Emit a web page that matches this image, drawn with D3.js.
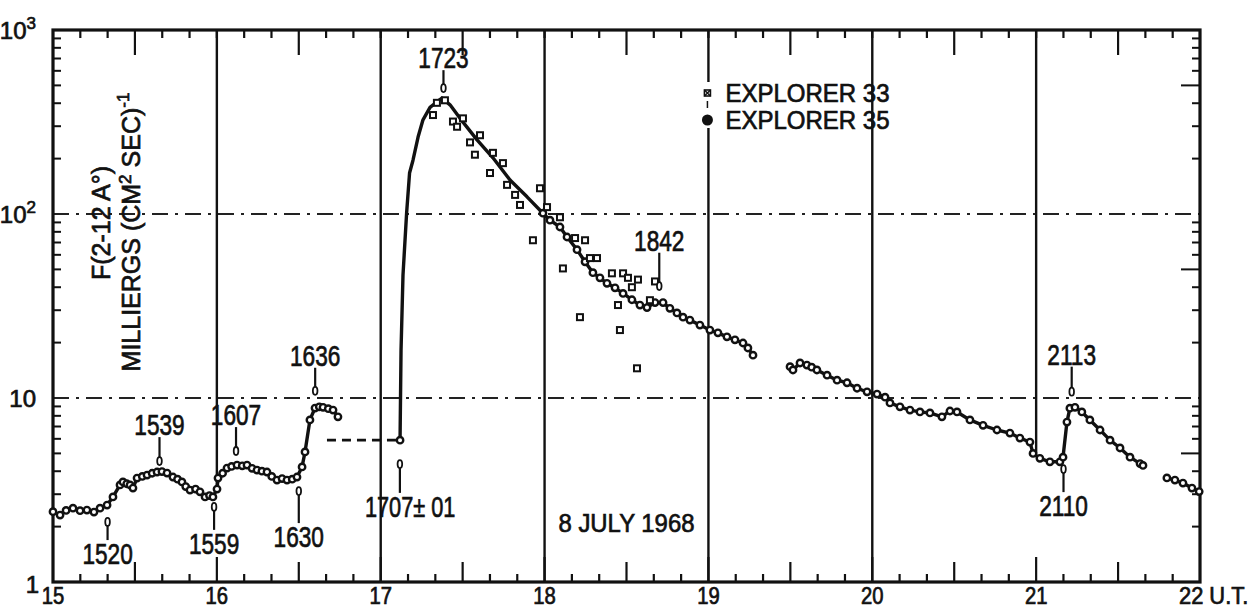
<!DOCTYPE html>
<html>
<head>
<meta charset="utf-8">
<script src="https://cdn.jsdelivr.net/npm/d3@7"></script>
<style>
  body { margin: 0; background: #fff; }
  text { font-family: "Liberation Sans", Arial, sans-serif; fill: #111; stroke: #111; stroke-width: 0.7px; }
</style>
</head>
<body>
<svg width="1259" height="610"></svg>
<script>
// times are decimal hours U.T., values in milliergs (cm2 sec)-1
const e35Early = [
  [15.000, 2.41], [15.043, 2.31], [15.080, 2.45], [15.122, 2.52], [15.165, 2.44],
  [15.207, 2.46], [15.250, 2.40], [15.287, 2.52], [15.330, 2.62], [15.366, 2.90],
  [15.409, 3.37], [15.427, 3.50], [15.450, 3.42], [15.470, 3.37], [15.488, 3.24],
  [15.513, 3.67], [15.545, 3.75], [15.574, 3.81], [15.605, 3.90], [15.635, 3.96],
  [15.665, 3.98], [15.696, 3.91], [15.732, 3.72], [15.760, 3.62], [15.787, 3.50],
  [15.810, 3.30], [15.836, 3.16], [15.870, 3.20], [15.897, 3.09], [15.928, 2.90],
  [15.955, 2.95], [15.976, 2.90], [16.001, 3.20], [16.007, 3.67], [16.035, 3.90],
  [16.062, 4.16], [16.090, 4.25], [16.123, 4.32], [16.155, 4.28], [16.184, 4.32],
  [16.215, 4.15], [16.245, 4.06], [16.275, 4.00], [16.306, 3.96], [16.335, 3.75],
  [16.367, 3.58], [16.398, 3.65], [16.428, 3.58], [16.460, 3.62], [16.489, 3.72],
  [16.520, 4.22], [16.538, 5.09], [16.568, 7.60], [16.599, 8.82], [16.625, 8.95],
  [16.648, 8.90], [16.680, 8.75], [16.709, 8.60], [16.739, 7.90]
];

const e35Gap = [[16.672, 5.9], [17.118, 5.9]];

const e35Flare = [
  [17.118, 5.9], [17.124, 18.2], [17.136, 46.6], [17.158, 101], [17.176, 167],
  [17.197, 196], [17.228, 262], [17.258, 325], [17.301, 380], [17.340, 405],
  [17.374, 427], [17.423, 392], [17.484, 331], [17.588, 253], [17.685, 202],
  [17.789, 153], [17.893, 124], [17.990, 101], [18.033, 92.6], [18.094, 85],
  [18.137, 75], [18.198, 64], [18.247, 55], [18.295, 48], [18.338, 45],
  [18.381, 42], [18.430, 39.7], [18.479, 37], [18.533, 34.2], [18.582, 32],
  [18.625, 31], [18.674, 33], [18.723, 33], [18.765, 30.7], [18.808, 29],
  [18.845, 27.5], [18.887, 26.5], [18.948, 24.9], [19.009, 23.4], [19.058, 22.6],
  [19.113, 21.5], [19.162, 20.7], [19.211, 19.9], [19.241, 18.7], [19.272, 17.1]
];

const e35Late = [
  [19.498, 14.8], [19.516, 14.2], [19.559, 15.5], [19.601, 15.1], [19.630, 14.7],
  [19.662, 14.2], [19.724, 13.3], [19.785, 12.5], [19.846, 12.1], [19.907, 11.3],
  [19.968, 10.8], [20.029, 10.5], [20.078, 10.1], [20.108, 9.4], [20.169, 8.95],
  [20.230, 8.6], [20.291, 8.4], [20.352, 8.3], [20.425, 7.9], [20.474, 8.5],
  [20.517, 8.4], [20.596, 7.6], [20.676, 7.1], [20.761, 6.7], [20.840, 6.45],
  [20.901, 6.06], [20.962, 5.76], [20.981, 5.0], [21.023, 4.7], [21.084, 4.5],
  [21.145, 4.5], [21.164, 4.77], [21.188, 7.4], [21.206, 8.8], [21.237, 8.9],
  [21.279, 8.4], [21.328, 7.6], [21.390, 6.7], [21.451, 5.9], [21.512, 5.35],
  [21.573, 4.77], [21.634, 4.4], [21.652, 4.3]
];

const e35Tail = [
  [21.798, 3.68], [21.847, 3.58], [21.896, 3.45], [21.951, 3.24], [21.995, 3.10]
];

const e33Points = [
  [17.319, 345], [17.343, 402], [17.392, 415], [17.441, 318], [17.466, 298],
  [17.502, 331], [17.545, 245], [17.575, 210], [17.606, 268], [17.667, 167],
  [17.685, 215], [17.746, 189], [17.771, 144], [17.820, 127], [17.850, 112],
  [17.929, 72], [17.972, 138], [18.015, 109], [18.094, 96], [18.112, 50.6],
  [18.186, 74], [18.216, 27.5], [18.247, 72], [18.277, 57.6], [18.320, 57.6],
  [18.411, 47.6], [18.448, 32], [18.460, 23.4], [18.479, 47.6], [18.509, 45],
  [18.533, 40], [18.564, 14.5], [18.570, 44], [18.643, 34], [18.674, 43]
];

// label, time, arrow tip value, arrow tail value
const annotations = [
  ["1520", 15.333, 2.23, 1.69],
  ["1539", 15.650, 4.32, 6.13],
  ["1559", 15.983, 2.69, 1.92],
  ["1607", 16.117, 4.90, 6.95],
  ["1630", 16.500, 3.28, 2.09],
  ["1636", 16.600, 10.4, 14.6],
  ["1707± 01", 17.117, 4.60, 3.05],
  ["1723", 17.383, 460, 605],
  ["1842", 18.700, 38.6, 61.6],
  ["2113", 21.217, 10.3, 14.8],
  ["2110", 21.167, 4.32, 3.08]
];

const hours = [15, 16, 17, 18, 19, 20, 21, 22];
const hourLabels = ["15", "16", "17", "18", "19", "20", "21", "22"];
const decades = [1, 10, 100, 1000];
const decadeExp = ["", "", "2", "3"];

const svg = d3.select("svg");
const x = d3.scaleLinear().domain([15, 22]).range([53, 1200]);
const y = d3.scaleLog().domain([1, 1000]).range([582, 30]);
const yTop = y(1000), yBottom = y(1), xLeft = x(15), xRight = x(22);

function condense(sel, k) {
  sel.each(function() {
    const w = this.getComputedTextLength();
    d3.select(this).attr("textLength", w * k).attr("lengthAdjust", "spacingAndGlyphs");
  });
}

// horizontal dash-dot grid at 10 and 100
svg.selectAll("line.hgrid").data([10, 100]).enter().append("line")
  .attr("class", "hgrid")
  .attr("x1", xLeft).attr("x2", xRight)
  .attr("y1", d => y(d)).attr("y2", d => y(d))
  .attr("stroke", "#222").attr("stroke-width", 1.8)
  .attr("stroke-dasharray", "16,7,3,7");

// vertical hour lines
const hourLines = [[16, 3.15], [17, 1], [18, 1], [19, 1], [20, 1], [21, 5.0]];
svg.selectAll("line.vgrid").data(hourLines).enter().append("line")
  .attr("class", "vgrid")
  .attr("x1", d => x(d[0])).attr("x2", d => x(d[0]))
  .attr("y1", yTop).attr("y2", d => y(d[1]))
  .attr("stroke", "#111").attr("stroke-width", 2.4);

// minor time ticks (every 10 min) on top and bottom
const minuteTicks = d3.range(0, 42).map(i => 15 + i / 6).filter(t => t > 15.01 && t < 21.99);
svg.selectAll("line.bt").data(minuteTicks).enter().append("line")
  .attr("x1", d => x(d)).attr("x2", d => x(d))
  .attr("y1", yBottom)
  .attr("y2", d => {
    const m = Math.round((d - 15) * 6) % 6;
    return yBottom - (m === 0 ? 25 : m === 3 ? 20 : 8);
  })
  .attr("stroke", "#111").attr("stroke-width", 2.2);
svg.selectAll("line.tt").data(minuteTicks).enter().append("line")
  .attr("x1", d => x(d)).attr("x2", d => x(d))
  .attr("y1", yTop)
  .attr("y2", d => {
    const m = Math.round((d - 15) * 6) % 6;
    return yTop + (m === 3 ? 25 : 8);
  })
  .attr("stroke", "#111").attr("stroke-width", 2.2);

// log minor ticks on left and right axes
const logTicks = [];
[1, 10, 100].forEach(dec => { for (let k = 2; k <= 9; k++) logTicks.push(dec * k); });
svg.selectAll("line.lt").data(logTicks).enter().append("line")
  .attr("x1", xLeft).attr("x2", xLeft + 8)
  .attr("y1", d => y(d)).attr("y2", d => y(d))
  .attr("stroke", "#111").attr("stroke-width", 2);
svg.selectAll("line.rt").data(logTicks).enter().append("line")
  .attr("x1", xRight)
  .attr("x2", d => xRight - (Math.round(d / Math.pow(10, Math.floor(Math.log10(d) + 1e-9))) === 5 ? 19 : 8))
  .attr("y1", d => y(d)).attr("y2", d => y(d))
  .attr("stroke", "#111").attr("stroke-width", 2);

// frame
svg.append("rect")
  .attr("x", xLeft).attr("y", yTop)
  .attr("width", xRight - xLeft).attr("height", yBottom - yTop)
  .attr("fill", "none").attr("stroke", "#111").attr("stroke-width", 3.2);

// x labels
svg.selectAll("text.xl").data(hours.slice(0, 7)).enter().append("text")
  .attr("x", d => x(d)).attr("y", 604)
  .attr("text-anchor", "middle").attr("font-size", 23)
  .text((d, i) => hourLabels[i])
  .call(condense, 0.88);
svg.append("text")
  .attr("x", x(22) - 21).attr("y", 604).attr("font-size", 23)
  .text(hourLabels[7] + " U.T.")
  .call(condense, 0.95);

// y labels
const yl = svg.selectAll("text.yl").data(decades).enter().append("text")
  .attr("x", d => d === 1 ? 39 : 36)
  .attr("y", d => y(d) + (d === 1 ? 11 : 9))
  .attr("text-anchor", "end").attr("font-size", 24);
yl.append("tspan").text(d => d === 1 ? "1" : "10");
yl.append("tspan").attr("dy", -10).attr("font-size", 17).text((d, i) => decadeExp[i]);

// y axis title
const yt = svg.append("g");
yt.append("text")
  .attr("transform", "translate(110,223) rotate(-90)")
  .attr("text-anchor", "middle").attr("font-size", 25)
  .text("F(2-12 A°)");
const t2 = yt.append("text")
  .attr("transform", "translate(140,232) rotate(-90)")
  .attr("text-anchor", "middle").attr("font-size", 25);
t2.append("tspan").text("MILLIERGS (CM");
t2.append("tspan").attr("dy", -9).attr("font-size", 17).text("2");
t2.append("tspan").attr("dy", 9).text(" SEC)");
t2.append("tspan").attr("dy", -11).attr("font-size", 17).text("-1");

// Explorer 35 curve
const line = d3.line().x(d => x(d[0])).y(d => y(d[1]));
[e35Early, e35Flare, e35Late, e35Tail].forEach(seg => {
  svg.append("path").datum(seg)
    .attr("d", line)
    .attr("fill", "none").attr("stroke", "#111").attr("stroke-width", 3.4)
    .attr("stroke-linejoin", "round");
});
svg.append("path").datum(e35Gap)
  .attr("d", line)
  .attr("fill", "none").attr("stroke", "#111").attr("stroke-width", 2.6)
  .attr("stroke-dasharray", "9,6");

const e35All = [].concat(e35Early, e35Flare.filter(d => d[0] < 17.12 || d[0] > 17.95), e35Late, e35Tail);
svg.selectAll("circle.e35").data(e35All).enter().append("circle")
  .attr("cx", d => x(d[0])).attr("cy", d => y(d[1]))
  .attr("r", 3.2)
  .attr("fill", "#fff").attr("stroke", "#111").attr("stroke-width", 2.4);

// Explorer 33 points
svg.selectAll("rect.e33").data(e33Points).enter().append("rect")
  .attr("x", d => x(d[0]) - 3).attr("y", d => y(d[1]) - 3)
  .attr("width", 6).attr("height", 6)
  .attr("fill", "#fff").attr("stroke", "#111").attr("stroke-width", 2);

// annotations
annotations.forEach(a => {
  const ax = x(a[1]);
  const tipY = y(a[2]), tailY = y(a[3]);
  const up = tailY > tipY; // tail below tip: arrow points up, label below
  svg.append("line")
    .attr("x1", ax).attr("x2", ax).attr("y1", tailY).attr("y2", tipY + (up ? 4 : -4))
    .attr("stroke", "#111").attr("stroke-width", 2.2);
  svg.append("ellipse")
    .attr("cx", ax).attr("cy", tipY + (up ? 4 : -4))
    .attr("rx", 2.3).attr("ry", 4)
    .attr("fill", "#fff").attr("stroke", "#111").attr("stroke-width", 1.8);
  const lab = svg.append("text")
    .attr("y", up ? tailY + 24 : tailY - 2)
    .attr("font-size", 29)
    .text(a[0]);
  if (a[0].length > 4) {
    lab.attr("x", ax - 35).attr("text-anchor", "start").call(condense, 0.75);
  } else {
    lab.attr("x", ax).attr("text-anchor", "middle").call(condense, 0.78);
  }
});

// date
svg.append("text")
  .attr("x", x(18.5)).attr("y", 532)
  .attr("text-anchor", "middle").attr("font-size", 26)
  .text("8 JULY 1968")
  .call(condense, 0.92);

// legend
const lg = svg.append("g").attr("transform", "translate(" + (x(19) - 1) + ",0)");
lg.append("rect").attr("x", -4).attr("y", 82).attr("width", 8).attr("height", 46).attr("fill", "#fff");
lg.append("rect").attr("x", -3).attr("y", 90).attr("width", 6).attr("height", 6)
  .attr("fill", "#fff").attr("stroke", "#111").attr("stroke-width", 1.6);
lg.append("path").attr("d", "M-3,90L3,96M3,90L-3,96").attr("stroke", "#111").attr("stroke-width", 1.4);
lg.append("line").attr("x1", 0).attr("x2", 0).attr("y1", 101).attr("y2", 108)
  .attr("stroke", "#111").attr("stroke-width", 1.5);
lg.append("circle").attr("cx", 0).attr("cy", 120).attr("r", 5.5).attr("fill", "#111");
lg.append("text").attr("x", 18).attr("y", 102).attr("font-size", 25)
  .text("EXPLORER 33").call(condense, 0.96);
lg.append("text").attr("x", 18).attr("y", 129).attr("font-size", 25)
  .text("EXPLORER 35").call(condense, 0.96);
</script>
</body>
</html>
